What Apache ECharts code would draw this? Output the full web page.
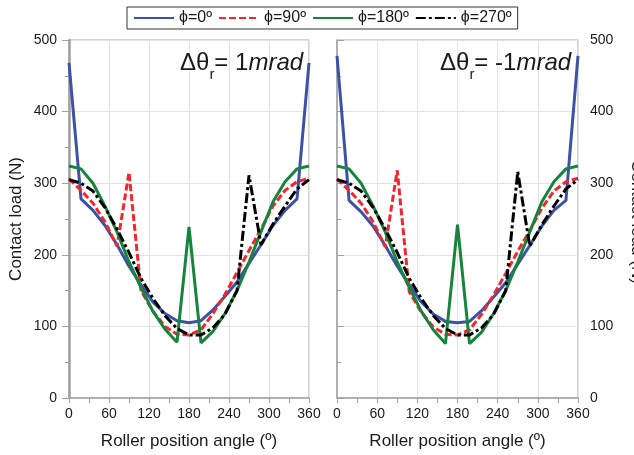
<!DOCTYPE html>
<html>
<head>
<meta charset="utf-8">
<script src="https://cdn.jsdelivr.net/npm/echarts@6/dist/echarts.min.js"></script>
<style>
  html, body { margin: 0; padding: 0; background: #fff; }
  #chart { width: 634px; height: 455px; }
</style>
</head>
<body>
<div id="chart"></div>
<script>
// Roller position angles (degrees), one point per roller every 18°
const angles = [0, 18, 36, 54, 72, 90, 108, 126, 144, 162, 180, 198, 216, 234, 252, 270, 288, 306, 324, 342, 360];

// Contact load (N) for Δθr = 1 mrad
const loadPhi0Pos   = [468, 278, 262, 241, 214, 184, 158, 134, 118, 108, 105, 108, 123, 142, 162, 188, 214, 241, 262, 278, 468];
const loadPhi90Pos  = [306, 290, 272, 246, 212, 315, 150, 121, 100, 89, 88, 95, 118, 145, 175, 206, 236, 268, 290, 302, 307];
const loadPhi180Pos = [324, 320, 300, 268, 232, 190, 154, 121, 96, 78, 239, 77, 93, 118, 150, 190, 232, 274, 302, 320, 324];
const loadPhi270Pos = [305, 300, 289, 266, 236, 203, 167, 139, 115, 97, 88, 88, 98, 117, 150, 311, 214, 243, 268, 292, 305];

// Contact load (N) for Δθr = -1 mrad
const loadPhi0Neg   = [478, 276, 260, 240, 213, 184, 158, 134, 117, 107, 105, 107, 122, 141, 161, 187, 213, 240, 262, 276, 478];
const loadPhi90Neg  = [306, 290, 272, 246, 211, 318, 148, 120, 99, 89, 88, 95, 117, 144, 174, 205, 234, 265, 289, 302, 307];
const loadPhi180Neg = [324, 320, 300, 268, 232, 190, 154, 121, 95, 76, 242, 76, 92, 118, 150, 190, 232, 274, 302, 320, 324];
const loadPhi270Neg = [305, 300, 289, 266, 236, 203, 167, 139, 115, 97, 88, 88, 98, 117, 150, 316, 212, 242, 268, 292, 305];

const seriesNames = ['ϕ=0º', 'ϕ=90º', 'ϕ=180º', 'ϕ=270º'];
const yTicksMax = 500;
const yTitle = 'Contact load (N)';

const FONT = "'Liberation Sans', Arial, sans-serif";
const AXIS_GREY = '#a0a0a0';
const TEXT = '#1a1a1a';

const styles = [
  { color: '#3d51a8', type: 'solid' },
  { color: '#f2262b', type: [7, 3] },
  { color: '#16843c', type: 'solid' },
  { color: '#000000', type: [10, 3, 3, 3] }
];

function pairs(values) {
  return angles.map((a, i) => [a, values[i]]);
}

function xAxisFor(gridIndex) {
  return {
    gridIndex: gridIndex,
    type: 'value',
    min: 0, max: 360, interval: 60,
    axisLine: { show: true, lineStyle: { color: AXIS_GREY, width: 1.5 } },
    axisTick: { show: true, length: 5, lineStyle: { color: AXIS_GREY } },
    minorTick: { show: true, splitNumber: 2, length: 5, lineStyle: { color: AXIS_GREY } },
    splitLine: { show: true, lineStyle: { color: '#e4e4e4', width: 1 } },
    axisLabel: { fontSize: 14, color: TEXT, margin: 9, fontFamily: FONT },
    name: 'Roller position angle (º)',
    nameLocation: 'middle',
    nameGap: 35,
    nameTextStyle: { fontSize: 17, color: TEXT, fontFamily: FONT }
  };
}

function yAxisFor(gridIndex, side) {
  const axis = {
    gridIndex: gridIndex,
    type: 'value',
    position: side,
    min: 0, max: yTicksMax, interval: 100,
    axisLine: { show: true, lineStyle: { color: AXIS_GREY, width: side === 'left' ? 2.5 : 1.5 } },
    axisTick: { show: true, length: 7, lineStyle: { color: AXIS_GREY } },
    minorTick: { show: true, splitNumber: 2, length: 4, lineStyle: { color: AXIS_GREY } },
    splitLine: { show: true, lineStyle: { color: '#e4e4e4', width: 1 } },
    axisLabel: { fontSize: 14, color: TEXT, margin: 12, fontFamily: FONT }
  };
  if (side === 'left') {
    Object.assign(axis, {
      name: yTitle,
      nameLocation: 'middle',
      nameRotate: 90,
      nameGap: 44,
      nameTextStyle: { fontSize: 17, color: TEXT, fontFamily: FONT }
    });
  }
  return axis;
}

function panelSeries(gridIndex, sets) {
  return sets.map((vals, k) => ({
    name: seriesNames[k],
    type: 'line',
    xAxisIndex: gridIndex,
    yAxisIndex: gridIndex,
    data: pairs(vals),
    symbol: 'none',
    lineStyle: { color: styles[k].color, width: 3, type: styles[k].type },
    itemStyle: { color: styles[k].color },
    z: 2 + k
  }));
}

function annotation(left, text) {
  const base = { fontSize: 24, fontFamily: FONT, fill: TEXT, verticalAlign: 'top', lineHeight: 28 };
  return {
    type: 'text', left: left, top: 51, z: 10,
    style: {
      text: text,
      rich: {
        a: base,
        s: { fontSize: 15, fontFamily: FONT, fill: TEXT, verticalAlign: 'top', lineHeight: 15, padding: [16, 0, 0, 0] },
        i: Object.assign({}, base, { fontStyle: 'italic' })
      }
    }
  };
}

const chart = echarts.init(document.getElementById('chart'), null, { renderer: 'canvas' });

chart.setOption({
  animation: false,
  backgroundColor: '#ffffff',
  textStyle: { fontFamily: FONT },
  legend: {
    data: seriesNames,
    left: 127, top: 7,
    orient: 'horizontal',
    itemWidth: 40, itemHeight: 14, itemGap: 6,
    padding: [3, 6, 3, 6],
    borderColor: '#333', borderWidth: 1,
    itemStyle: { opacity: 0 },
    textStyle: { fontSize: 16, color: TEXT, fontFamily: FONT }
  },
  grid: [
    { left: 69, top: 40, width: 240, height: 358, show: true, borderColor: '#aaaaaa', borderWidth: 1 },
    { left: 337, top: 40, width: 241, height: 358, show: true, borderColor: '#aaaaaa', borderWidth: 1 }
  ],
  xAxis: [xAxisFor(0), xAxisFor(1)],
  yAxis: [yAxisFor(0, 'left'), yAxisFor(1, 'right')],
  graphic: [
    annotation(180, '{a|Δθ}{s|r}{a|= 1}{i|mrad}'),
    annotation(440, '{a|Δθ}{s|r}{a|= -1}{i|mrad}'),
    {
      // title of the right-hand load axis, running past the page edge
      type: 'text', x: 637, y: 222, rotation: -Math.PI / 2, z: 10,
      style: {
        text: yTitle, fontSize: 17, fontFamily: FONT, fill: TEXT,
        align: 'center', verticalAlign: 'middle'
      }
    }
  ],
  series: [
    ...panelSeries(0, [loadPhi0Pos, loadPhi90Pos, loadPhi180Pos, loadPhi270Pos]),
    ...panelSeries(1, [loadPhi0Neg, loadPhi90Neg, loadPhi180Neg, loadPhi270Neg])
  ]
});
</script>
</body>
</html>
